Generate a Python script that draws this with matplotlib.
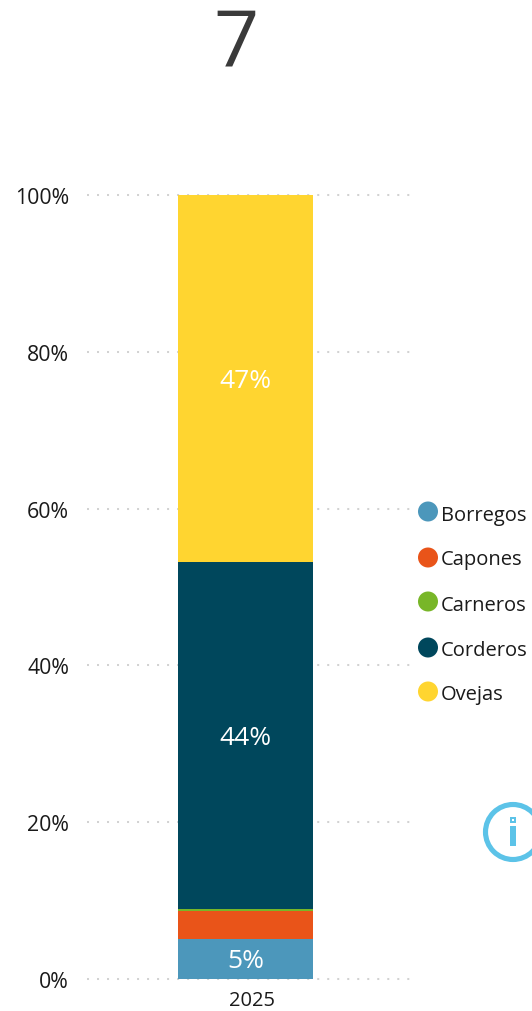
"Stacked 100% column with a single year"
import matplotlib
matplotlib.use("Agg")
import matplotlib.pyplot as plt
from matplotlib.patches import Circle, Rectangle

plt.rcParams["font.family"] = ["Open Sans", "DejaVu Sans"]

W, H = 532, 1012

years = ["2025"]
categories = ["Borregos", "Capones", "Carneros", "Corderos", "Ovejas"]
values = [5.1, 3.6, 0.28, 44.22, 46.8]
bar_labels = ["5%", "", "", "44%", "47%"]
colors = ["#4C97BB", "#E95419", "#78B628", "#00475C", "#FFD530"]
ticks = [0, 20, 40, 60, 80, 100]
tick_labels = ["0%", "20%", "40%", "60%", "80%", "100%"]
title = "7"

fig = plt.figure(figsize=(W / 100, H / 100), dpi=100)

ax = fig.add_axes([87 / W, 1 - 980 / H, (411 - 87) / W, (980 - 196) / H])
ax.set_xlim(-0.5, 0.5)
ax.set_ylim(0, 100)
for s in ax.spines.values():
    s.set_visible(False)

ax.set_axisbelow(True)
ax.yaxis.grid(True, color="#D2D2D2", linewidth=1.45, linestyle=(0, (1, 3.97)), dash_capstyle="butt")
for line in ax.get_ygridlines():
    line.set_clip_on(False)

bottom = 0
bar_x = -3.5 / 324
bar_w = 135 / 324
for val, lab, col in zip(values, bar_labels, colors):
    ax.bar(bar_x, val, width=bar_w, bottom=bottom, color=col, linewidth=0, zorder=3)
    if lab:
        # labels sit a little above the segment centre
        ax.annotate(lab, (bar_x, bottom + val / 2), xytext=(0, 0.8), textcoords="offset points",
                    color="white", fontsize=19, ha="center", va="center_baseline", zorder=4)
    bottom += val

ax.set_yticks(ticks)
ax.set_yticklabels(tick_labels, fontsize=15.3, color="#1A1A1A")
ax.set_xticks([3 / 324])
ax.set_xticklabels(years, fontsize=14.5, color="#1A1A1A")
ax.tick_params(axis="y", length=0, pad=13)
ax.tick_params(axis="x", length=0, pad=8)

# overlay in pixel coordinates for title, legend and info icon
ov = fig.add_axes([0, 0, 1, 1], zorder=5)
ov.set_xlim(0, W)
ov.set_ylim(H, 0)
ov.axis("off")
ov.patch.set_alpha(0)

ov.text(236, 65, title, fontsize=57, color="#3A3A3A", ha="center", va="baseline")

legend_y = [512.5, 558.5, 602.5, 648.5, 692.5]
legend_base = [521, 565, 611, 656, 700]
for y, b, name, col in zip(legend_y, legend_base, categories, colors):
    ov.add_patch(Circle((428, y), 10, color=col, linewidth=0))
    ov.text(441, b, name, fontsize=14.5, color="#1A1A1A", ha="left", va="baseline")

ov.add_patch(Circle((513, 833), 27.5, fill=False, edgecolor="#5CC3E8", linewidth=3.7))
ov.add_patch(Rectangle((510, 818), 6, 6, color="#5CC3E8", linewidth=0))
ov.add_patch(Rectangle((512, 820), 2, 2, color="white", linewidth=0))
ov.add_patch(Rectangle((510, 827), 6, 20, color="#5CC3E8", linewidth=0))

fig.savefig("out.png", dpi=100)
